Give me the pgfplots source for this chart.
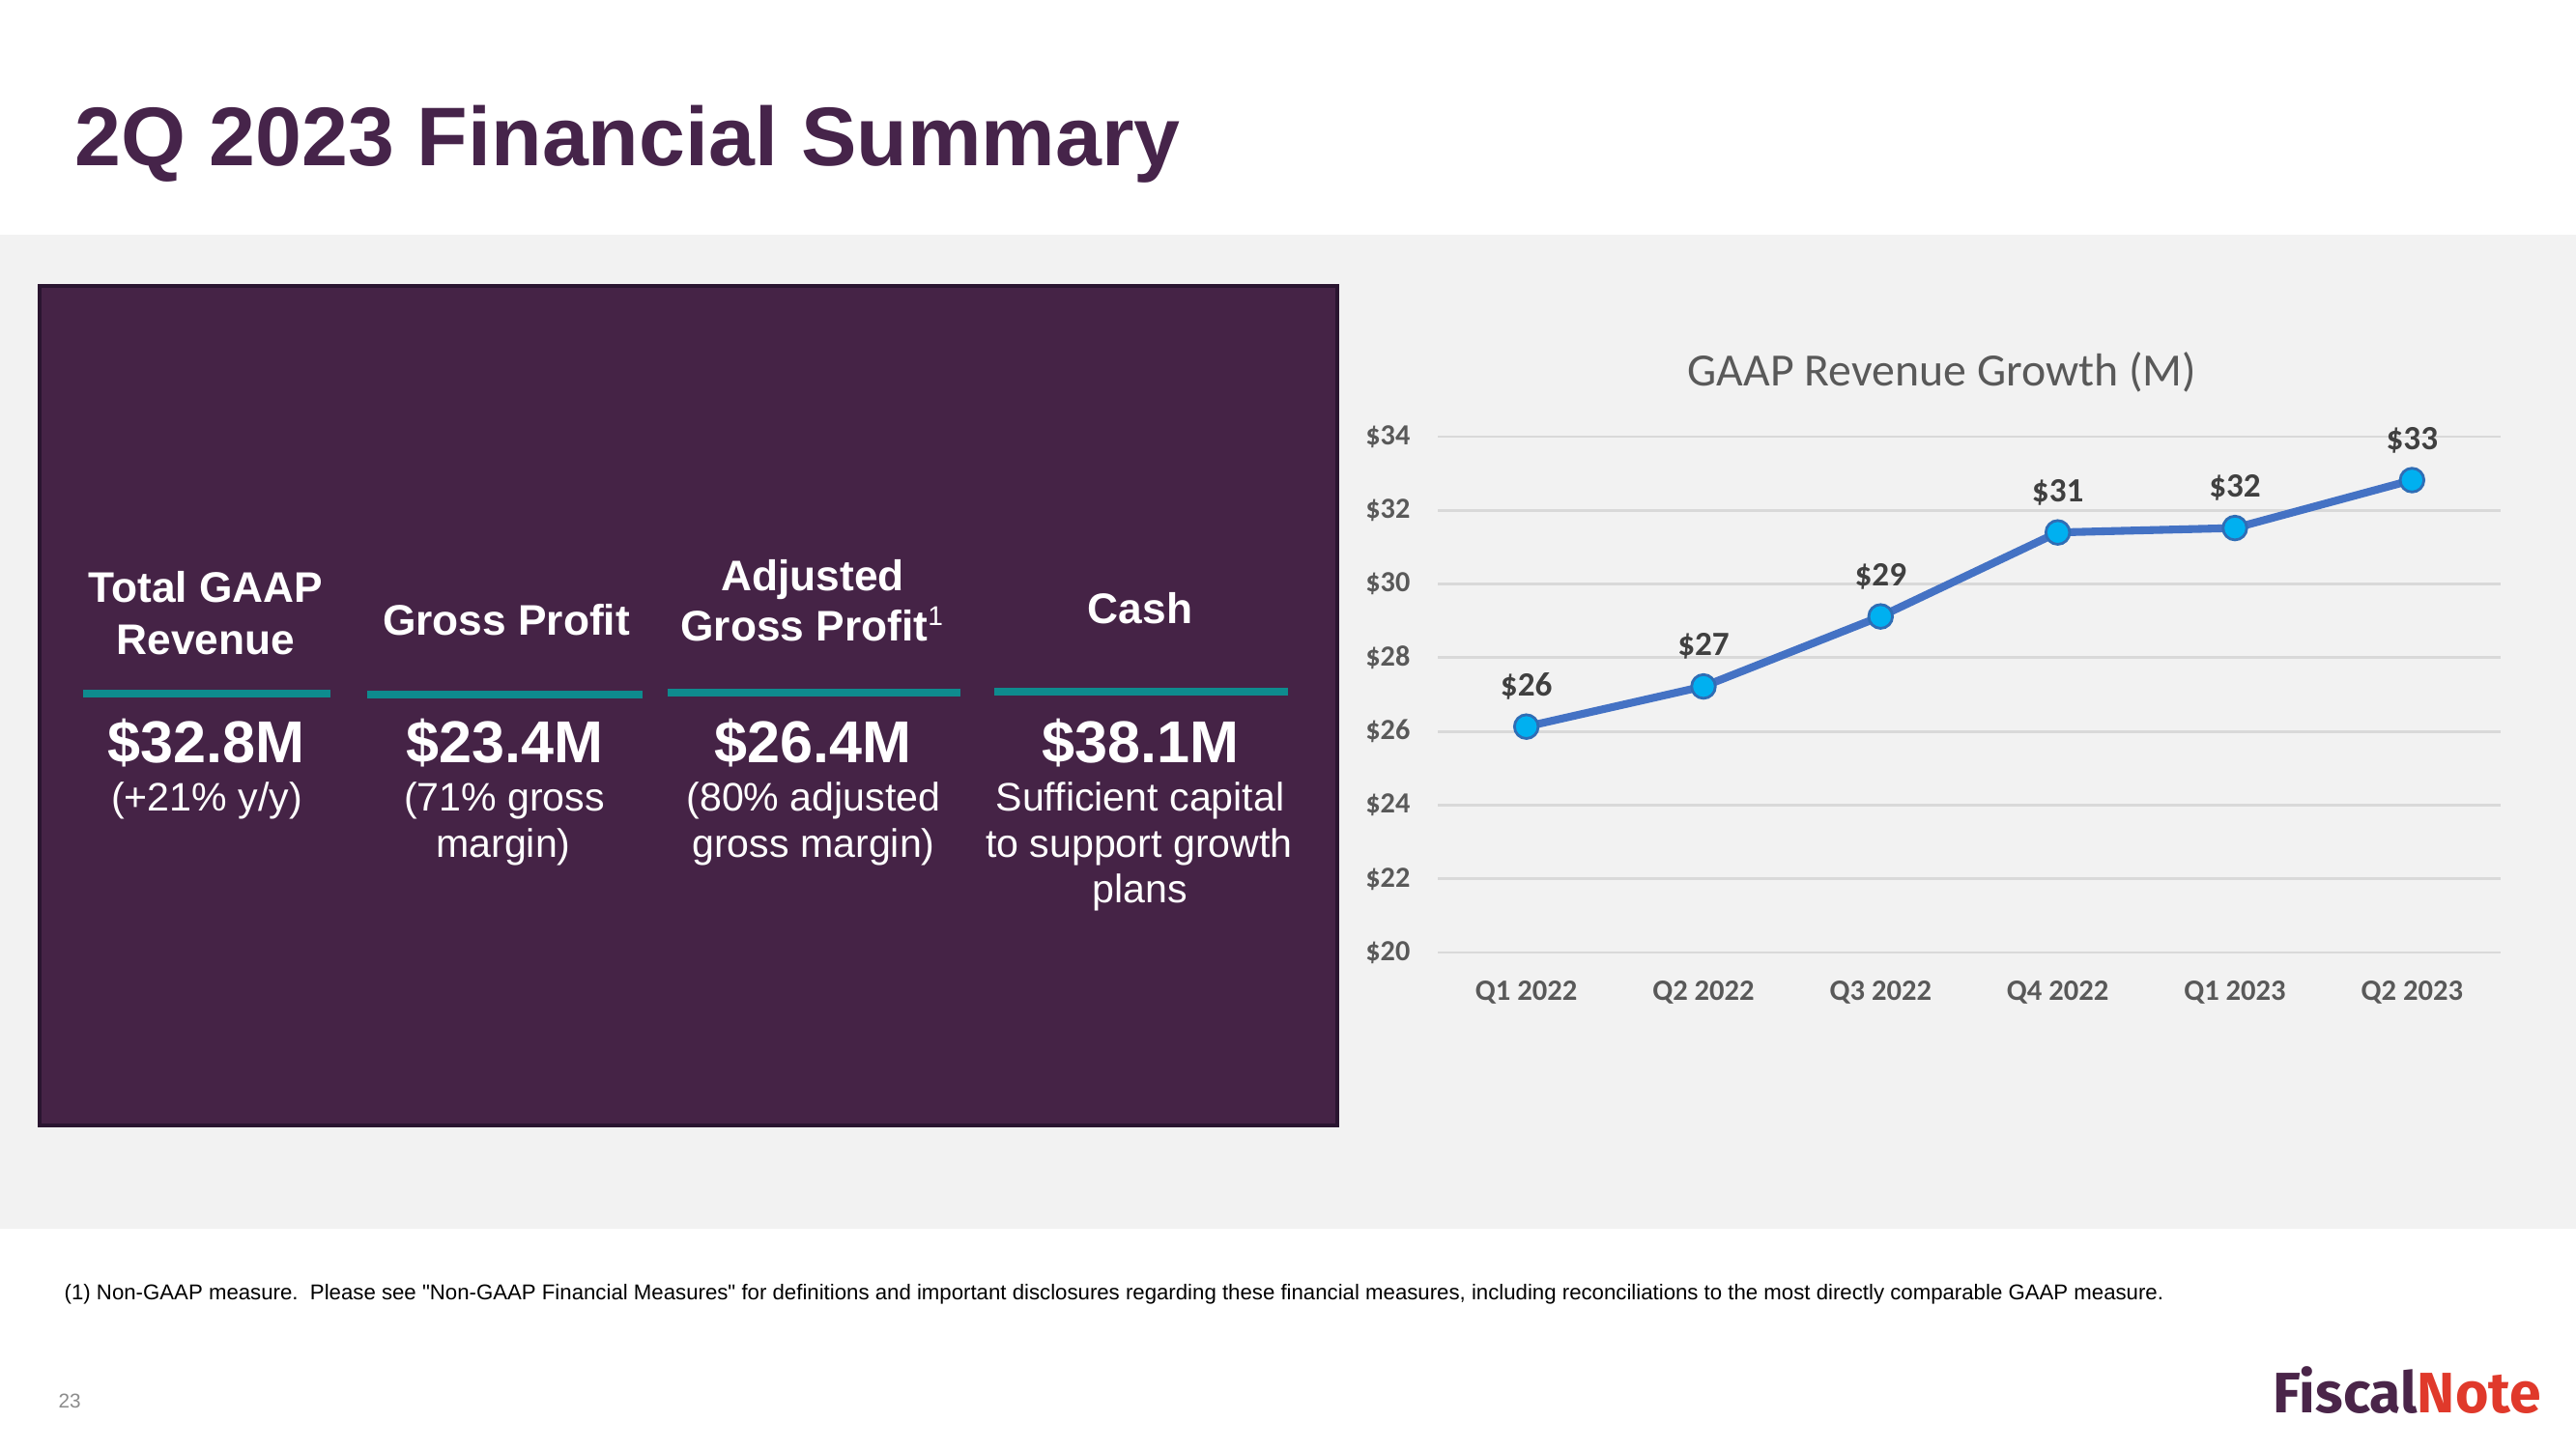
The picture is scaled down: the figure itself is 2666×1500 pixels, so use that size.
\documentclass[border=0pt]{standalone}
\usepackage{fontspec}
\setmainfont{Liberation Sans}
\newfontfamily\carlito{Carlito}
\newfontfamily\fira{Fira Sans}
\usepackage{pgfplots}
\pgfplotsset{compat=1.18}
\definecolor{bandgray}{HTML}{F2F2F2}
\definecolor{boxpurple}{HTML}{452346}
\definecolor{boxborder}{HTML}{2A1530}
\definecolor{titlepurple}{HTML}{46244A}
\definecolor{teal}{HTML}{0E8B8E}
\definecolor{gridgray}{HTML}{D9D9D9}
\definecolor{tickgray}{HTML}{595959}
\definecolor{labelgray}{HTML}{404040}
\definecolor{lineblue}{HTML}{4472C4}
\definecolor{markblue}{HTML}{00B0F0}
\definecolor{markborder}{HTML}{2F6DB5}
\definecolor{logopurple}{HTML}{4A2549}
\definecolor{logored}{HTML}{E0392B}
\pgfplotstableread{
x y lab
0 26.13 26
1 27.22 27
2 29.12 29
3 31.40 31
4 31.52 32
5 32.82 33
}\revtable
\begin{document}
\begin{tikzpicture}
\begin{scope}[x=0.1mm,y=-0.1mm]
\fill[white] (0,0) rectangle (2666,1500);
\fill[bandgray] (0,243) rectangle (2666,1272);
\filldraw[fill=boxpurple, draw=boxborder, line width=1pt] (41,296) rectangle (1384,1165);
\node[anchor=base west, inner sep=0pt, text=titlepurple, font=\fontsize{24.5}{29}\selectfont\bfseries] at (77,172) {2Q 2023 Financial Summary};
% teal bars
\fill[teal] (86,714) rectangle (342,722);
\fill[teal] (380,715) rectangle (665,723);
\fill[teal] (691,713) rectangle (994,721);
\fill[teal] (1029,712) rectangle (1333,720);
% headers
\begin{scope}[every node/.style={anchor=base, inner sep=0pt, text=white, font=\fontsize{12.6}{15}\selectfont\bfseries}]
\node at (213,623) {Total GAAP};
\node at (213,677) {Revenue};
\node at (524,657) {Gross Profit};
\node at (841,611) {Adjusted};
\node at (841,663) {Gross Profit\textsuperscript{\fontsize{8}{9}\selectfont\mdseries 1}};
\node at (1180,645) {Cash};
\end{scope}
\begin{scope}[every node/.style={anchor=base, inner sep=0pt, text=white, font=\fontsize{17.4}{20}\selectfont\bfseries}]
\node at (213,789) {\$32.8M};
\node at (522,789) {\$23.4M};
\node at (841,789) {\$26.4M};
\node at (1180,789) {\$38.1M};
\end{scope}
\begin{scope}[every node/.style={anchor=base, inner sep=0pt, text=white, font=\fontsize{11.7}{14}\selectfont}]
\node at (214,839) {(+21\% y/y)};
\node at (522,839) {(71\% gross};
\node at (521,887) {margin)};
\node at (842,839) {(80\% adjusted};
\node at (842,887) {gross margin)};
\node at (1180,839) {Sufficient capital};
\node at (1179,887) {to support growth};
\node at (1180,934) {plans};
\end{scope}
% chart title
\node[anchor=base, inner sep=0pt, text=tickgray, font=\carlito\fontsize{13.6}{16}\selectfont] at (2010,399) {GAAP Revenue Growth (M)};
% footnote
\node[anchor=base west, inner sep=0pt, font=\fontsize{6.32}{8}\selectfont] at (66,1345) {(1) Non-GAAP measure.\ \ Please see \textquotedbl Non-GAAP Financial Measures\textquotedbl\ for definitions and important disclosures regarding these financial measures, including reconciliations to the most directly comparable GAAP measure.};
\node[anchor=base west, inner sep=0pt, text=black!45, font=\fontsize{5.9}{7}\selectfont] at (60,1457) {23};
\node[anchor=base west, inner sep=0pt, font=\fira\bfseries\fontsize{16.8}{20}\selectfont] at (2352,1462) {\textcolor{logopurple}{Fiscal}\textcolor{logored}{Note}};
\end{scope}
\begin{axis}[
  at={(148.8mm,-98.6mm)}, anchor=south west,
  scale only axis, width=110mm, height=53.4mm,
  xmin=-0.5, xmax=5.5, ymin=20, ymax=34,
  xtick={0,1,2,3,4,5},
  xticklabels={Q1 2022,Q2 2022,Q3 2022,Q4 2022,Q1 2023,Q2 2023},
  ytick={20,22,24,26,28,30,32,34},
  yticklabels={\$20,\$22,\$24,\$26,\$28,\$30,\$32,\$34},
  axis line style={draw=none},
  major tick style={draw=none},
  ymajorgrids,
  grid style={color=gridgray, line width=0.8pt},
  xticklabel style={anchor=base, inner sep=0pt, yshift=-4.9mm, text=tickgray, font=\carlito\bfseries\fontsize{8.7}{10}\selectfont},
  yticklabel style={anchor=east, inner sep=0pt, xshift=-2.8mm, text=tickgray, font=\carlito\bfseries\fontsize{8.6}{10}\selectfont},
  clip=false,
  point meta=explicit symbolic,
  nodes near coords={\$\pgfplotspointmeta},
  every node near coord/.append style={anchor=base, inner sep=0pt, yshift=3.2mm, text=labelgray, font=\carlito\bfseries\fontsize{10}{12}\selectfont},
]
\addplot[color=lineblue, line width=2.3pt, mark=*, mark size=3.5pt, mark options={fill=markblue, draw=markborder, line width=0.8pt}] table[x=x, y=y, meta=lab] {\revtable};
\end{axis}
\end{tikzpicture}
\end{document}
